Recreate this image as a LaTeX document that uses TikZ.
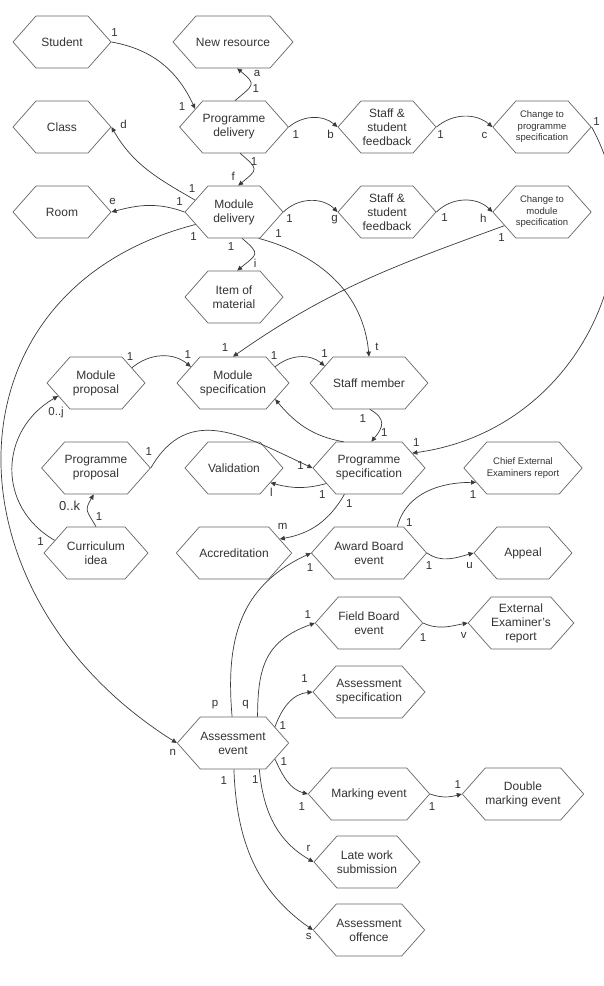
\documentclass[tikz,border=0pt]{standalone}
\usepackage{fontspec}
\setmainfont{Liberation Sans}
\usepackage{xcolor}
\definecolor{erline}{HTML}{3A3A3A}
\definecolor{erbox}{HTML}{666666}
\definecolor{ertext}{HTML}{333333}
\usetikzlibrary{arrows.meta,shapes.symbols}

\begin{document}
\begin{tikzpicture}[>={Triangle[length=5pt,width=4.5pt]},x=1pt,y=1pt]
\tikzset{
 h/.style={signal,signal to=east and west,signal pointer angle=97,draw=erbox,line width=0.7pt,minimum width=98pt,minimum height=52pt,inner sep=0pt,align=center,text=ertext,font=\fontsize{12}{14}\selectfont},
 hs/.style={h,font=\fontsize{9.5}{11.5}\selectfont},
 a/.style={->,draw=erline,line width=0.7pt},
 c/.style={inner sep=0pt,text=ertext,font=\fontsize{11.5}{12}\selectfont}
}
\useasboundingbox (0,0) rectangle (604,-986);
% row 1-3: delivery
\node[h] (st) at (62,-42) {Student};
\node[h] (nr) at (233,-42) {New resource};
\node[h] (cl) at (62,-127) {Class};
\node[h] (pd) at (234,-127) {Programme\\delivery};
\node[h] (sf1) at (387,-127) {Staff \&\\student\\feedback};
\node[hs] (cps) at (542,-127) {Change to\\programme\\specification};
\node[h] (rm) at (62,-212) {Room};
\node[h] (md) at (234,-212) {Module\\delivery};
\node[h] (sf2) at (387,-212) {Staff \&\\student\\feedback};
\node[hs] (cms) at (542,-212) {Change to\\module\\specification};
\node[h] (im) at (234,-297) {Item of\\material};
% specification
\node[h] (mp) at (96,-383) {Module\\proposal};
\node[h] (ms) at (233,-383) {Module\\specification};
\node[h] (sm) at (369,-383) {Staff member};
\node[h] (pp) at (96,-468) {Programme\\proposal};
\node[h] (va) at (234,-468) {Validation};
\node[h] (ps) at (369,-468) {Programme\\specification};
\node[hs] (cee) at (523,-468) {Chief External\\Examiners report};
\node[h] (ci) at (96,-553) {Curriculum\\idea};
\node[h] (ac) at (234,-553) {Accreditation};
\node[h] (abe) at (369,-553) {Award Board\\event};
\node[h] (ap) at (523,-553) {Appeal};
% assessment
\node[h] (fbe) at (369,-623) {Field Board\\event};
\node[h] (eer) at (521,-623) {External\\Examiner's\\report};
\node[h] (as) at (369,-692) {Assessment\\specification};
\node[h] (ae) at (233,-743) {Assessment\\event};
\node[h] (me) at (369,-794) {Marking event};
\node[h] (dme) at (523,-794) {Double\\marking event};
\node[h] (lw) at (367,-862) {Late work\\submission};
\node[h] (ao) at (369,-930) {Assessment\\offence};

\draw[a] (st.east) to[out=-10,in=115] node[c,at start,shift={(3,9)}]{1} node[c,at end,shift={(-13,2)}]{1} (pd.155);
\draw[a] (pd.88) to[out=40,in=-40,looseness=2] node[c,at start,shift={(21,12)}]{1} node[c,at end,shift={(20,-5)}]{a} (nr.-81);
\draw[a] (pd.east) to[out=40,in=140] node[c,at start,shift={(7,-8)}]{1} node[c,at end,shift={(-7,-7)}]{b} (sf1.west);
\draw[a] (sf1.east) to[out=40,in=140] node[c,at start,shift={(4,-8)}]{1} node[c,at end,shift={(-8,-8)}]{c} (cps.west);
\draw[a] (cps.east) .. controls (660,-250) and (580,-430) .. node[c,at start,shift={(5,5)}]{1} node[c,at end,shift={(4,11)}]{1} (ps.19);
\draw[a] (pd.-77) to[out=-40,in=40,looseness=2] node[c,at start,shift={(14,-8)}]{1} node[c,at end,shift={(-5,9)}]{f} (md.81);
\draw[a] (md.163) to[out=150,in=-60] node[c,at start,shift={(-3,12)}]{1} node[c,at end,shift={(12,3)}]{d} (cl.east);
\draw[a] (md.west) to[out=160,in=15] node[c,at start,shift={(-5,10)}]{1} node[c,at end,shift={(1,11)}]{e} (rm.east);
\draw[a] (md.198) .. controls (-60,-290) and (-60,-594) .. node[c,at start,shift={(-2,-12)}]{1} node[c,at end,shift={(-4,-9)}]{n} (ae.west);
\draw[a] (md.east) to[out=45,in=135] node[c,at start,shift={(6,-7)}]{1} node[c,at end,shift={(-3,-8)}]{g} (sf2.west);
\draw[a] (sf2.east) to[out=45,in=135] node[c,at start,shift={(8,-6)}]{1} node[c,at end,shift={(-9,-6)}]{h} (cms.west);
\draw[a] (cms.200) to[out=200,in=35] node[c,at start,shift={(-3,-12)}]{1} node[c,at end,shift={(-8,9)}]{1} (ms.north);
\draw[a] (md.-73) to[out=-40,in=40,looseness=2] node[c,at start,shift={(-11,-8)}]{1} node[c,at end,shift={(18,7)}]{i} (im.83);
\draw[a] (md.-47) to[out=-15,in=95] node[c,at start,shift={(20,5)}]{1} node[c,at end,shift={(8,10)}]{t} (sm.north);
\draw[a] (mp.23) to[out=40,in=140] node[c,at start,shift={(-2,11)}]{1} node[c,at end,shift={(-3,12)}]{1} (ms.159);
\draw[a] (ms.21) to[out=40,in=140] node[c,at start,shift={(-1,11)}]{1} node[c,at end,shift={(0,12)}]{1} (sm.159);
\draw[a] (ps.134) to[out=170,in=-50] (ms.-21);
\draw[a] (sm.-88) to[out=-30,in=50,looseness=1.5] node[c,at start,shift={(-7,-9)}]{1} node[c,at end,shift={(13,9)}]{1} (ps.85);
\draw[a] (pp.east) to[out=60,in=155,looseness=1.2] node[c,at start,shift={(-2,16)}]{1} node[c,at end,shift={(-12,2)}]{1} (ps.west);
\draw[a] (ps.200) to[out=195,in=-15] node[c,at start,shift={(-4,-11)}]{1} node[c,at end,shift={(1,-10)}]{l} (va.-22);
\draw[a] (ps.-133) to[out=-120,in=10] node[c,at start,shift={(5,-9)}]{1} node[c,at end,shift={(3,13)}]{m} (ac.17);
\draw[a] (ci.north) to[out=120,in=-120,looseness=1.5] node[c,at start,shift={(3,10)}]{1} node[c,at end,shift={(-24,-11)},font=\fontsize{13}{13}\selectfont]{0..k} (pp.-95);
\draw[a] (ci.163) to[out=150,in=210,looseness=1.2] node[c,at start,shift={(-14,-1)}]{1} node[c,at end,shift={(-2,-16)}]{0..j} (mp.199);
\draw[a] (abe.43) to[out=75,in=180] node[c,at start,shift={(12,4)}]{1} node[c,at end,shift={(-3,-12)}]{1} (cee.197);
\draw[a] (abe.east) to[out=-35,in=195] node[c,at start,shift={(2,-13)}]{1} node[c,at end,shift={(-4,-13)}]{u} (ap.west);
\draw[a] (ae.92) to[out=95,in=205,looseness=1.1] node[c,at start,shift={(-17,12)}]{p} node[c,at end,shift={(-1,-15)}]{1} (abe.west);
\draw[a] (ae.47) to[out=90,in=200,looseness=1.2] node[c,at start,shift={(-12,12)}]{q} node[c,at end,shift={(-7,8)}]{1} (fbe.west);
\draw[a] (fbe.east) to[out=-25,in=190] node[c,at start,shift={(0,-15)}]{1} node[c,at end,shift={(-4,-12)}]{v} (eer.west);
\draw[a] (ae.21) to[out=70,in=185] node[c,at start,shift={(8,1)}]{1} node[c,at end,shift={(-8,13)}]{1} (as.west);
\draw[a] (ae.-21) to[out=-65,in=165] node[c,at start,shift={(9,-2)}]{1} node[c,at end,shift={(-6,-13)}]{1} (me.west);
\draw[a] (me.east) to[out=-20,in=195] node[c,at start,shift={(2,-13)}]{1} node[c,at end,shift={(-4,9)}]{1} (dme.west);
\draw[a] (ae.-45) to[out=-85,in=150] node[c,at start,shift={(-4,-10)}]{1} node[c,at end,shift={(-5,14)}]{r} (lw.west);
\draw[a] (ae.-88) to[out=-88,in=145] node[c,at start,shift={(-10,-11)}]{1} node[c,at end,shift={(-4,-6)}]{s} (ao.west);
\end{tikzpicture}
\end{document}
